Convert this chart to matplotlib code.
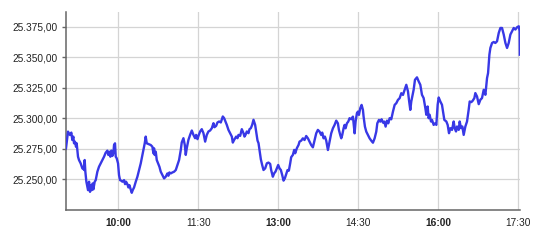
import numpy as np
import matplotlib
matplotlib.use("Agg")
import matplotlib.pyplot as plt
from matplotlib.ticker import FuncFormatter, FixedLocator

# minutos desde 09:00 e cotacao do indice
minutos = [
    1.5, 3.75, 6.0, 7.5, 8.6, 9.75, 10.5, 11.6, 12.75, 13.5, 14.25, 15.0, 16.1, 18.0, 19.9,
    21.0, 21.75, 22.5, 23.25, 24.4, 25.5, 26.25, 27.4, 28.5, 29.25, 30.4, 31.5, 32.25, 33.75,
    34.9, 36.75, 38.6, 40.5, 42.4, 44.25, 46.1, 48.0, 49.1, 50.25, 51.4, 52.5, 53.6, 54.75,
    55.5, 56.6, 57.4, 58.5, 60.0, 61.1, 62.25, 63.75, 64.9, 66.75, 67.9, 69.0, 70.5, 71.6,
    72.75, 74.25, 75.4, 76.5, 78.0, 79.9, 81.75, 83.6, 85.5, 87.4, 88.5, 90.0, 91.1, 92.25,
    94.9, 96.75, 98.6, 99.75, 100.5, 101.25, 102.4, 103.5, 105.0, 106.5, 108.0, 109.9, 111.75,
    113.6, 115.5, 116.6, 117.75, 119.25, 121.1, 123.0, 124.9, 126.75, 128.6, 130.5, 131.6,
    133.5, 135.0, 136.1, 137.25, 139.1, 141.0, 142.9, 144.75, 146.6, 147.75, 149.25, 150.4,
    152.25, 154.1, 156.0, 157.9, 159.75, 161.6, 163.5, 165.4, 167.25, 168.4, 170.25, 171.75,
    173.6, 175.5, 177.75, 179.25, 180.75, 182.25, 184.1, 186.0, 187.9, 189.0, 190.5, 192.75,
    194.25, 195.4, 197.25, 199.1, 201.0, 202.1, 203.25, 204.75, 206.6, 207.75, 209.25, 210.75,
    212.25, 214.1, 215.25, 216.75, 217.9, 219.0, 220.5, 222.0, 223.5, 225.4, 227.25, 229.1,
    231.0, 232.1, 234.0, 235.5, 237.0, 238.5, 240.0, 241.5, 243.0, 244.5, 246.0, 247.5, 249.0,
    250.5, 252.0, 253.5, 254.6, 256.5, 258.0, 259.1, 261.0, 262.9, 264.0, 265.9, 267.75, 269.6,
    271.5, 273.4, 275.25, 277.1, 279.0, 280.9, 282.75, 284.6, 286.5, 288.4, 289.5, 291.0, 292.5,
    294.0, 295.9, 297.0, 298.5, 299.6, 301.5, 303.4, 305.25, 307.1, 308.25, 309.75, 310.9, 312.0,
    313.5, 314.6, 315.75, 317.25, 318.75, 320.25, 322.1, 324.0, 325.9, 327.0, 328.5, 329.6,
    330.75, 332.25, 333.75, 335.25, 336.0, 337.5, 339.0, 340.9, 342.75, 344.6, 346.5, 348.4,
    350.25, 351.4, 353.25, 354.75, 356.25, 357.75, 359.25, 360.75, 362.25, 363.75, 365.25,
    367.1, 369.0, 370.9, 372.75, 374.6, 376.5, 378.4, 380.25, 382.1, 384.0, 385.9, 387.0,
    388.5, 389.6, 390.75, 392.25, 393.75, 396.0, 397.9, 399.75, 401.6, 403.5, 405.4, 406.5,
    408.0, 409.1, 410.25, 411.75, 412.9, 414.75, 416.6, 417.75, 419.25, 420.4, 422.25, 424.1,
    425.25, 426.75, 429.0, 430.5, 432.0, 433.5, 435.4, 437.25, 438.4, 439.9, 441.0, 442.9,
    444.0, 445.5, 447.0, 448.5, 450.4, 452.25, 454.1, 455.25, 457.1, 458.6, 460.5, 461.6,
    463.5, 465.4, 467.25, 469.1, 471.0, 472.9, 474.75, 475.9, 477.4, 478.5, 480.4, 482.25,
    484.1, 486.0, 487.9, 489.75, 491.6, 493.5, 495.4, 497.25, 499.1, 501.0, 502.9, 504.75,
    506.6, 508.5, 510.4, 511.4, 511.6,
]
cotacao = [
    25275.2, 25288.9, 25286.1, 25288.1, 25282.0, 25284.8, 25279.3, 25280.7, 25276.5, 25279.3,
    25273.8, 25268.3, 25265.6, 25262.8, 25258.7, 25260.1, 25257.4, 25265.6, 25256.0, 25247.8,
    25243.7, 25240.9, 25247.8, 25239.5, 25245.0, 25240.9, 25246.4, 25241.5, 25247.8, 25249.1,
    25256.0, 25260.1, 25262.8, 25265.6, 25268.3, 25271.6, 25273.3, 25269.7, 25272.4, 25268.3,
    25273.3, 25268.9, 25271.1, 25277.9, 25279.3, 25268.3, 25267.0, 25262.8, 25253.2, 25249.1,
    25248.6, 25247.8, 25249.1, 25245.8, 25247.8, 25245.8, 25243.1, 25245.0, 25241.5, 25238.7,
    25240.9, 25243.1, 25247.8, 25251.9, 25257.4, 25262.8, 25269.7, 25273.8, 25279.3, 25284.8,
    25279.3, 25278.5, 25277.9, 25276.5, 25271.1, 25275.2, 25269.7, 25272.4, 25265.6, 25262.8,
    25260.1, 25256.0, 25253.2, 25250.5, 25251.9, 25254.6, 25252.7, 25255.4, 25254.6, 25255.4,
    25256.0, 25257.4, 25261.5, 25265.6, 25273.8, 25280.0,
    25283.5, 25278.0, 25269.8, 25275.3, 25282.1, 25286.2, 25289.8, 25286.2, 25283.5, 25286.2,
    25282.7, 25285.4, 25289.0, 25290.9, 25287.6, 25280.7, 25286.2, 25289.0, 25289.8, 25291.7,
    25295.8, 25292.5, 25293.6, 25296.4, 25297.2, 25296.4, 25301.3, 25299.9, 25297.2, 25294.4,
    25290.3, 25287.6, 25284.8, 25279.9, 25282.1, 25284.8, 25283.5, 25286.2, 25285.4, 25290.9,
    25287.6, 25284.8, 25286.2, 25289.0, 25287.6, 25290.9, 25291.7, 25294.4, 25298.6, 25294.4,
    25289.0, 25281.6, 25279.4, 25273.9, 25266.2, 25261.5, 25257.4, 25258.8, 25262.9, 25263.5,
    25262.4, 25257.4, 25251.9, 25254.7, 25256.1, 25258.8, 25261.5, 25258.8, 25257.4, 25253.3,
    25248.7, 25250.6, 25254.1, 25257.4, 25256.9, 25262.9, 25267.9, 25269.8, 25273.9, 25271.1,
    25275.3, 25278.0, 25280.7,
    25281.5, 25283.4, 25282.0, 25285.3, 25283.4, 25280.7, 25277.9, 25276.0, 25282.0, 25287.5,
    25290.3, 25288.9, 25286.1, 25288.1, 25283.4, 25284.8, 25281.5, 25273.8, 25277.9, 25283.4,
    25287.5, 25291.6, 25294.4, 25297.9, 25295.7, 25290.3, 25286.1, 25283.4, 25286.1, 25291.6,
    25294.4, 25291.6, 25295.7, 25297.1, 25299.9, 25299.0, 25301.2, 25287.5, 25297.1, 25304.0,
    25305.3, 25302.6, 25308.1, 25310.8, 25306.7, 25301.2, 25293.0, 25288.9, 25286.1, 25283.4,
    25281.5, 25279.8, 25283.4, 25288.9, 25295.7, 25298.5, 25297.1, 25299.0, 25296.3, 25297.1,
    25293.0, 25297.9, 25295.7, 25299.9, 25299.0, 25305.3, 25310.8, 25312.2, 25314.9, 25316.3,
    25320.4, 25319.0, 25323.2, 25327.3, 25321.8, 25314.9, 25306.7, 25313.6, 25317.7, 25323.2,
    25331.4,
    25333.4, 25330.1, 25327.3, 25319.1, 25316.4, 25308.2, 25302.7, 25309.5, 25299.9, 25302.7,
    25297.2, 25298.5, 25294.4, 25295.8, 25294.4, 25310.9, 25316.9, 25313.6, 25310.9, 25305.4,
    25298.5, 25297.2, 25294.4, 25287.6, 25291.7, 25290.3, 25297.2, 25291.7, 25289.0, 25293.1,
    25290.3, 25297.2, 25291.7, 25293.1, 25286.2, 25293.1, 25297.2, 25306.8, 25313.6, 25313.1,
    25314.2, 25316.4, 25320.5, 25317.7, 25311.4, 25315.0, 25316.4, 25323.2, 25319.1, 25332.8,
    25336.9, 25352.0, 25357.5, 25361.6, 25362.4, 25361.6, 25363.0, 25369.8, 25373.9, 25373.9,
    25368.5, 25361.6, 25357.5, 25361.6, 25368.5, 25371.2, 25373.9, 25372.6, 25374.5, 25375.3,
    25371.2, 25352.0,
]

rotulos_x = ["10:00", "11:30", "13:00", "14:30", "16:00", "17:30"]
ticks_x = [60, 150, 240, 330, 420, 510]
negrito = ["10:00", "13:00", "16:00"]
ticks_y = [25250, 25275, 25300, 25325, 25350, 25375]


def formata(v, pos):
    s = f"{v:,.2f}"
    return s.replace(",", "X").replace(".", ",").replace("X", ".")


plt.rcParams["font.family"] = ["Liberation Sans", "DejaVu Sans"]
fig = plt.figure(figsize=(5.38, 2.43), dpi=100)
ax = fig.add_axes([66 / 538, 1 - 210 / 243, 454 / 538, 198 / 243])

ax.plot(minutos, cotacao, color="#3838e6", lw=1.7, solid_joinstyle="round", zorder=3)

ax.set_xlim(minutos[0], 511.8)
ax.set_ylim(25224.6, 25387.0)
ax.xaxis.set_major_locator(FixedLocator(ticks_x))
ax.set_xticklabels(rotulos_x)
for t in ax.get_xticklabels():
    if t.get_text() in negrito:
        t.set_fontweight("bold")
ax.yaxis.set_major_locator(FixedLocator(ticks_y))
ax.yaxis.set_major_formatter(FuncFormatter(formata))

ax.grid(True, color="#d4d4d4", lw=0.9, zorder=0)
ax.set_axisbelow(True)
for s in ("top", "right"):
    ax.spines[s].set_visible(False)
for s in ("left", "bottom"):
    ax.spines[s].set_color("#666666")
    ax.spines[s].set_linewidth(1.1)
ax.tick_params(axis="x", length=0, pad=6, labelsize=7.3, labelcolor="#222222")
ax.tick_params(axis="y", length=3, width=1, color="#666666", pad=3,
               labelsize=7.3, labelcolor="#222222")

fig.savefig("out.png", dpi=100)
